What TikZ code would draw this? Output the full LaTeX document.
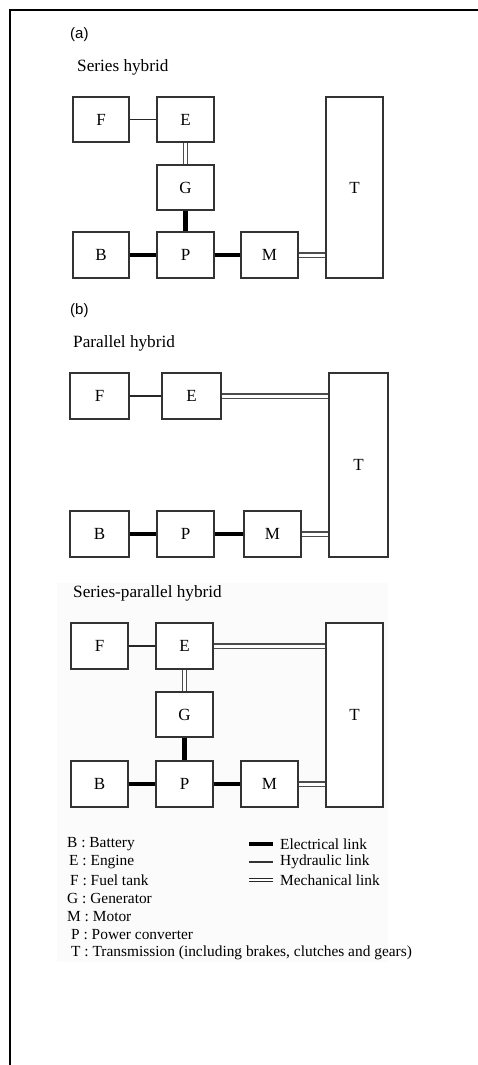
\documentclass[tikz,border=0pt]{standalone}
\usepackage{fontspec}
\setmainfont{Liberation Serif}
\newfontfamily\labsans{Liberation Sans}
\begin{document}
\begin{tikzpicture}[x=1pt,y=-1pt,
  blk/.style={draw=black!80,line width=1.3pt,fill=white,inner sep=0pt,
    font=\fontsize{17}{17}\selectfont},
  elec/.style={black,line width=4.5pt},
  hydr/.style={black!85,line width=1.3pt},
  mech/.style={black!70,line width=1.2pt,double=white,double distance=3pt},
  ttl/.style={anchor=west,inner sep=0pt,font=\fontsize{17.2}{17.2}\selectfont},
  sub/.style={anchor=west,inner sep=0pt,font=\labsans\fontsize{15}{15}\selectfont},
  leg/.style={anchor=west,inner sep=0pt,font=\fontsize{15.4}{15.4}\selectfont}]
\useasboundingbox (0,0) rectangle (478,1065);
\fill[white] (0,0) rectangle (478,1065);
\fill[black!1.5] (57,583) rectangle (388,962);
\draw[line width=2pt] (478,10) -- (10,10) -- (10,1065);

% (a) Series hybrid
\node[sub] (la) at (70,35) {(a)};
\node[ttl] (ta) at (77,67) {Series hybrid};
\node[blk,minimum width=56pt,minimum height=45pt] (aF) at (101,119.5) {F};
\node[blk,minimum width=57pt,minimum height=45pt] (aE) at (185.5,119.5) {E};
\node[blk,minimum width=57pt,minimum height=45pt] (aG) at (185.5,187.5) {G};
\node[blk,minimum width=56pt,minimum height=46pt] (aB) at (101,255) {B};
\node[blk,minimum width=57pt,minimum height=46pt] (aP) at (185.5,255) {P};
\node[blk,minimum width=57pt,minimum height=46pt] (aM) at (269.5,255) {M};
\node[blk,minimum width=57pt,minimum height=181pt] (aT) at (354.5,187.5) {T};
\draw[hydr] (aF) -- (aE);
\draw[mech] (aE) -- (aG);
\draw[elec] (aG) -- (aP);
\draw[elec] (aB) -- (aP);
\draw[elec] (aP) -- (aM);
\draw[mech] (aM.east) -- (aM.east -| aT.west);

% (b) Parallel hybrid
\node[sub] (lb) at (70,311) {(b)};
\node[ttl] (tb) at (73,343) {Parallel hybrid};
\node[blk,minimum width=59pt,minimum height=46pt] (bF) at (99.5,396) {F};
\node[blk,minimum width=59pt,minimum height=46pt] (bE) at (191.5,396) {E};
\node[blk,minimum width=59pt,minimum height=46pt] (bB) at (99.5,534) {B};
\node[blk,minimum width=57pt,minimum height=46pt] (bP) at (185.5,534) {P};
\node[blk,minimum width=57pt,minimum height=46pt] (bM) at (272.5,534) {M};
\node[blk,minimum width=59pt,minimum height=184pt] (bT) at (358.5,465) {T};
\draw[hydr] (bF) -- (bE);
\draw[mech] (bE.east) -- (bE.east -| bT.west);
\draw[elec] (bB) -- (bP);
\draw[elec] (bP) -- (bM);
\draw[mech] (bM.east) -- (bM.east -| bT.west);

% Series-parallel hybrid
\node[ttl] (tc) at (73,593) {Series-parallel hybrid};
\node[blk,minimum width=57pt,minimum height=46pt] (cF) at (99.5,646) {F};
\node[blk,minimum width=57pt,minimum height=46pt] (cE) at (184.5,646) {E};
\node[blk,minimum width=57pt,minimum height=45pt] (cG) at (184.5,714.5) {G};
\node[blk,minimum width=57pt,minimum height=46pt] (cB) at (99.5,784) {B};
\node[blk,minimum width=57pt,minimum height=46pt] (cP) at (184.5,784) {P};
\node[blk,minimum width=57pt,minimum height=46pt] (cM) at (269.5,784) {M};
\node[blk,minimum width=57pt,minimum height=184pt] (cT) at (354.5,715) {T};
\draw[hydr] (cF) -- (cE);
\draw[mech] (cE) -- (cG);
\draw[mech] (cE.east) -- (cE.east -| cT.west);
\draw[elec] (cG) -- (cP);
\draw[elec] (cB) -- (cP);
\draw[elec] (cP) -- (cM);
\draw[mech] (cM.east) -- (cM.east -| cT.west);

% Legend
\node[leg] (kB) at (67,844) {B : Battery};
\node[leg] (kE) at (69,862) {E : Engine};
\node[leg] (kF) at (70,880) {F : Fuel tank};
\node[leg] (kG) at (67,898) {G : Generator};
\node[leg] (kM) at (67,917) {M : Motor};
\node[leg] (kP) at (71,935) {P : Power converter};
\node[leg] (kT) at (71,953) {T : Transmission (including brakes, clutches and gears)};
\coordinate (e1) at (249,844); \coordinate (e2) at (273,844);
\coordinate (h1) at (249,862); \coordinate (h2) at (273,862);
\coordinate (m1) at (249,880); \coordinate (m2) at (273,880);
\draw[black,line width=3.5pt] (e1) -- (e2);
\draw[black!80,line width=1.5pt] (h1) -- (h2);
\draw[black!85,line width=1.3pt,double=white,double distance=2pt] (m1) -- (m2);
\node[leg] (ke) at (280,844) {Electrical link};
\node[leg] (kh) at (280,862) {Hydraulic link};
\node[leg] (km) at (280,880) {Mechanical link};
\end{tikzpicture}
\end{document}
